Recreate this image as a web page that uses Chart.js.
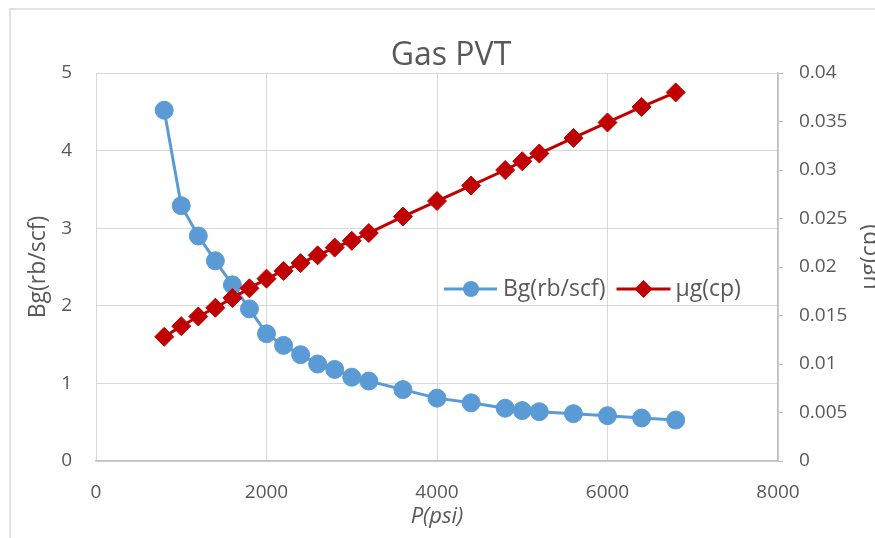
<!DOCTYPE html>
<html><head><meta charset="utf-8">
<script src="https://cdn.jsdelivr.net/npm/chart.js@4/dist/chart.umd.min.js"></script>
<style>html,body{margin:0;padding:0;background:#fff;overflow:hidden}#wrap{width:875px;height:538px;position:relative}</style>
</head><body><div id="wrap"><canvas id="c" width="875" height="538"></canvas></div>
<script>
// ---- data ----
const pressure = [800,1000,1200,1400,1600,1800,2000,2200,2400,2600,2800,3000,3200,3600,4000,4400,4800,5000,5200,5600,6000,6400,6800];
const bg = [4.52,3.29,2.90,2.58,2.27,1.96,1.64,1.49,1.37,1.25,1.18,1.08,1.03,0.92,0.81,0.75,0.68,0.65,0.635,0.61,0.584,0.554,0.528];
const mug = [0.0128,0.0139,0.0149,0.0158,0.0168,0.0178,0.0188,0.0196,0.0204,0.0212,0.0220,0.0227,0.0235,0.0252,0.0268,0.0284,0.0300,0.0309,0.0317,0.0333,0.0349,0.0365,0.0380];
const pTicks = [0,2000,4000,6000,8000];
const bgTicks = [0,1,2,3,4,5];
const muTicks = [0,0.005,0.01,0.015,0.02,0.025,0.03,0.035,0.04];
const muTickLabels = ['0','0.005','0.01','0.015','0.02','0.025','0.03','0.035','0.04'];
const titleText = 'Gas PVT';
const xTitle = 'P(psi)';
const bgLabel = 'Bg(rb/scf)';
const muLabel = 'µg(cp)';

const FONT = '"Open Sans", "DejaVu Sans", sans-serif';
const TXT = '#595959';
const BLUE = '#5B9BD5';
const RED = '#C00000';

const decor = {
  id: 'decor',
  beforeDraw(chart) {
    const ctx = chart.ctx;
    ctx.save();
    ctx.fillStyle = '#fff';
    ctx.fillRect(0, 0, chart.width, chart.height);
    ctx.strokeStyle = '#d9d9d9';
    ctx.lineWidth = 1.5;
    ctx.strokeRect(10, 9, 2000, 2000);
    ctx.restore();
  },
  afterDraw(chart) {
    const ctx = chart.ctx;
    ctx.save();
    ctx.fillStyle = TXT;
    // chart title
    ctx.font = '32px ' + FONT;
    ctx.textAlign = 'center';
    ctx.textBaseline = 'alphabetic';
    ctx.fillText(titleText, 451, 65);
    // secondary axis title (reads bottom to top)
    ctx.save();
    ctx.translate(870, 257);
    ctx.rotate(-Math.PI / 2);
    ctx.font = '23px ' + FONT;
    ctx.textAlign = 'center';
    ctx.textBaseline = 'middle';
    ctx.fillText(muLabel, 0, 0);
    ctx.restore();
    // legend
    const ly = 289;
    ctx.font = '23px ' + FONT;
    ctx.textAlign = 'left';
    ctx.textBaseline = 'middle';
    let x = 444;
    ctx.strokeStyle = BLUE; ctx.lineWidth = 3;
    ctx.beginPath(); ctx.moveTo(x, ly); ctx.lineTo(x + 53, ly); ctx.stroke();
    ctx.fillStyle = BLUE;
    ctx.beginPath(); ctx.arc(x + 27, ly, 8, 0, Math.PI * 2); ctx.fill();
    ctx.fillStyle = TXT;
    ctx.fillText(bgLabel, x + 59, ly);
    x = x + 59 + ctx.measureText(bgLabel).width + 11;
    ctx.strokeStyle = RED; ctx.lineWidth = 3;
    ctx.beginPath(); ctx.moveTo(x, ly); ctx.lineTo(x + 54, ly); ctx.stroke();
    ctx.fillStyle = RED;
    const cx = x + 27, r = 9;
    ctx.beginPath(); ctx.moveTo(cx, ly - r); ctx.lineTo(cx + r, ly); ctx.lineTo(cx, ly + r); ctx.lineTo(cx - r, ly); ctx.closePath(); ctx.fill();
    ctx.fillStyle = TXT;
    ctx.fillText(muLabel, x + 59, ly);
    ctx.restore();
  }
};

new Chart(document.getElementById('c'), {
  type: 'line',
  data: {
    datasets: [
      {
        label: bgLabel,
        data: pressure.map((p, i) => ({x: p, y: bg[i]})),
        yAxisID: 'y',
        borderColor: BLUE, backgroundColor: BLUE,
        borderWidth: 3, pointStyle: 'circle', pointRadius: 9, pointBorderWidth: 1,
        pointBackgroundColor: BLUE, pointBorderColor: BLUE,
        tension: 0, order: 1
      },
      {
        label: muLabel,
        data: pressure.map((p, i) => ({x: p, y: mug[i]})),
        yAxisID: 'y1',
        borderColor: RED, backgroundColor: RED,
        borderWidth: 3, pointStyle: 'rectRot', pointRadius: 9.5, pointBorderWidth: 1,
        pointBackgroundColor: RED, pointBorderColor: RED,
        tension: 0, order: 0
      }
    ]
  },
  options: {
    responsive: false,
    devicePixelRatio: 1,
    animation: false,
    layout: {padding: {top: 73, left: 0, right: 0, bottom: 0}},
    plugins: {legend: {display: false}, title: {display: false}, tooltip: {enabled: false}},
    scales: {
      x: {
        type: 'linear', min: 0, max: 8000,
        afterBuildTicks: s => { s.ticks = pTicks.map(v => ({value: v})); },
        afterFit: s => { s.height = 77; },
        ticks: {color: TXT, font: {family: FONT, size: 19}, padding: 20, autoSkip: false, maxRotation: 0,
                callback: v => String(v)},
        grid: {color: '#d9d9d9', lineWidth: 1, drawTicks: false},
        border: {display: true, color: '#bfbfbf', width: 1.5},
        title: {display: true, text: xTitle, color: TXT, font: {family: FONT, size: 22, style: 'italic'}, padding: {top: 0, bottom: 8}}
      },
      y: {
        type: 'linear', position: 'left', min: 0, max: 5,
        afterBuildTicks: s => { s.ticks = bgTicks.map(v => ({value: v})); },
        afterFit: s => { s.width = 96; },
        ticks: {color: TXT, font: {family: FONT, size: 19}, padding: 24, autoSkip: false, callback: v => String(v)},
        grid: {color: '#d9d9d9', lineWidth: 1, drawTicks: false},
        border: {display: false},
        title: {display: true, text: bgLabel, color: TXT, font: {family: FONT, size: 23}, padding: {top: 25, bottom: 0}}
      },
      y1: {
        type: 'linear', position: 'right', min: 0, max: 0.04,
        afterBuildTicks: s => { s.ticks = muTicks.map(v => ({value: v})); },
        afterFit: s => { s.width = 97; },
        ticks: {color: TXT, font: {family: FONT, size: 19}, padding: 16, autoSkip: false,
                callback: (v, i) => muTickLabels[i]},
        grid: {drawOnChartArea: false, drawTicks: true, tickLength: 5, color: '#bfbfbf', lineWidth: 1},
        border: {display: true, color: '#bfbfbf', width: 1.5},
        title: {display: false}
      }
    }
  },
  plugins: [decor]
});
</script>
</body></html>
